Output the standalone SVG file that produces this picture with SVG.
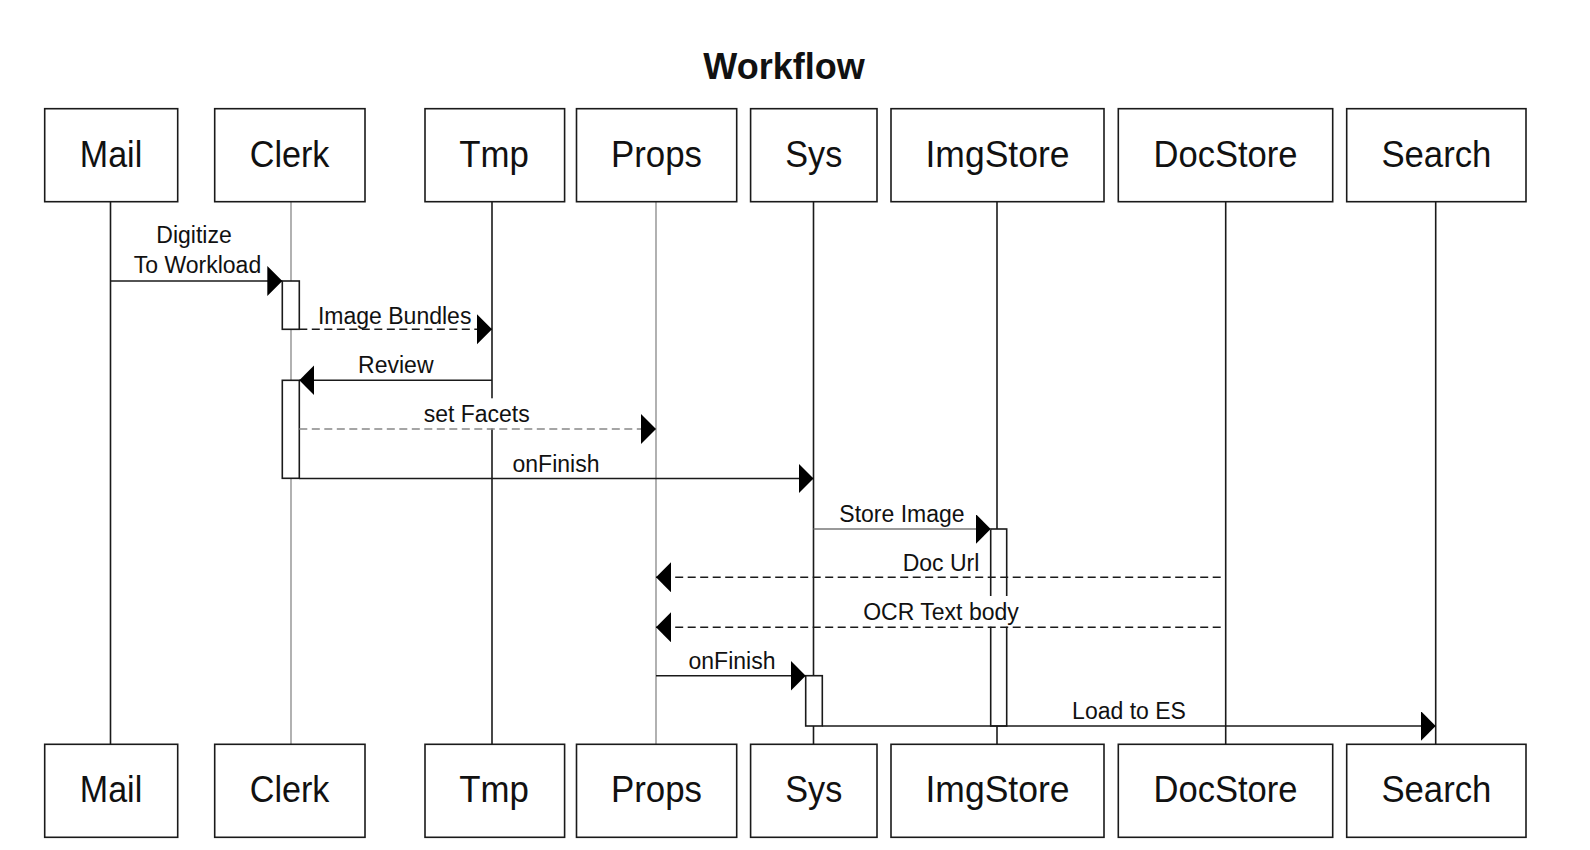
<svg xmlns="http://www.w3.org/2000/svg" width="1590" height="850" viewBox="0 0 1590 850">
<style>
  .box { fill: #fff; stroke: #1a1a1a; stroke-width: 1.6; }
  .lbl { font-family: "Liberation Sans", Arial, sans-serif; font-size: 37px; fill: #111; text-anchor: middle; }
  .title { font-family: "Liberation Sans", Arial, sans-serif; font-size: 36px; font-weight: bold; fill: #111; text-anchor: middle; }
  .msg { font-family: "Liberation Sans", Arial, sans-serif; font-size: 23px; fill: #111; text-anchor: middle; }
  .life { stroke: #1a1a1a; stroke-width: 1.6; fill: none; }
  .life-g { stroke: #888; stroke-width: 1.3; fill: none; }
  .act { fill: #fff; stroke: #1a1a1a; stroke-width: 1.6; }
  .sync { stroke: #1a1a1a; stroke-width: 1.6; fill: none; marker-end: url(#ah); }
  .sync-g { stroke: #777; stroke-width: 1.3; fill: none; marker-end: url(#ah); }
  .dash { stroke: #1a1a1a; stroke-width: 1.6; fill: none; stroke-dasharray: 8 4.5; marker-end: url(#ah); }
  .dash-g { stroke: #888; stroke-width: 1.3; fill: none; stroke-dasharray: 8 4.5; marker-end: url(#ah); }
  .bg { fill: #fff; stroke: none; }
</style>
<defs>
  <marker id="ah" markerUnits="userSpaceOnUse" markerWidth="16" markerHeight="31" refX="15" refY="15" orient="auto" viewBox="0 0 16 31">
    <path d="M0,0 L15,15 L0,30 Z" fill="#000"/>
  </marker>
</defs>
<rect width="1590" height="850" fill="#fff"/>
<text class="title" x="784" y="78.5">Workflow</text>

<g id="lifelines">
  <line class="life" x1="110.5" y1="201.7" x2="110.5" y2="744.3"/>
  <line class="life-g" x1="291" y1="201.7" x2="291" y2="744.3"/>
  <line class="life" x1="492" y1="201.7" x2="492" y2="744.3"/>
  <line class="life-g" x1="656" y1="201.7" x2="656" y2="744.3"/>
  <line class="life" x1="813.5" y1="201.7" x2="813.5" y2="744.3"/>
  <line class="life" x1="997" y1="201.7" x2="997" y2="744.3"/>
  <line class="life" x1="1225.7" y1="201.7" x2="1225.7" y2="744.3"/>
  <line class="life" x1="1435.7" y1="201.7" x2="1435.7" y2="744.3"/>
</g>

<g id="node-mail">
  <rect class="box" x="44.7" y="108.7" width="133" height="93"/>
  <text class="lbl" x="111" y="166.7" textLength="62.4" lengthAdjust="spacingAndGlyphs">Mail</text>
  <rect class="box" x="44.7" y="744.3" width="133" height="93"/>
  <text class="lbl" x="111" y="802.3" textLength="62.4" lengthAdjust="spacingAndGlyphs">Mail</text>
</g>
<g id="node-clerk">
  <rect class="box" x="214.7" y="108.7" width="150.3" height="93"/>
  <text class="lbl" x="289.6" y="166.7" textLength="79.7" lengthAdjust="spacingAndGlyphs">Clerk</text>
  <rect class="box" x="214.7" y="744.3" width="150.3" height="93"/>
  <text class="lbl" x="289.6" y="802.3" textLength="79.7" lengthAdjust="spacingAndGlyphs">Clerk</text>
</g>
<g id="node-tmp">
  <rect class="box" x="425" y="108.7" width="139.6" height="93"/>
  <text class="lbl" x="494" y="166.7" textLength="69.6" lengthAdjust="spacingAndGlyphs">Tmp</text>
  <rect class="box" x="425" y="744.3" width="139.6" height="93"/>
  <text class="lbl" x="494" y="802.3" textLength="69.6" lengthAdjust="spacingAndGlyphs">Tmp</text>
</g>
<g id="node-props">
  <rect class="box" x="576.5" y="108.7" width="160.2" height="93"/>
  <text class="lbl" x="656.5" y="166.7" textLength="91" lengthAdjust="spacingAndGlyphs">Props</text>
  <rect class="box" x="576.5" y="744.3" width="160.2" height="93"/>
  <text class="lbl" x="656.5" y="802.3" textLength="91" lengthAdjust="spacingAndGlyphs">Props</text>
</g>
<g id="node-sys">
  <rect class="box" x="750.6" y="108.7" width="126.4" height="93"/>
  <text class="lbl" x="813.8" y="166.7" textLength="57" lengthAdjust="spacingAndGlyphs">Sys</text>
  <rect class="box" x="750.6" y="744.3" width="126.4" height="93"/>
  <text class="lbl" x="813.8" y="802.3" textLength="57" lengthAdjust="spacingAndGlyphs">Sys</text>
</g>
<g id="node-imgstore">
  <rect class="box" x="891" y="108.7" width="213" height="93"/>
  <text class="lbl" x="997.5" y="166.7" textLength="144" lengthAdjust="spacingAndGlyphs">ImgStore</text>
  <rect class="box" x="891" y="744.3" width="213" height="93"/>
  <text class="lbl" x="997.5" y="802.3" textLength="144" lengthAdjust="spacingAndGlyphs">ImgStore</text>
</g>
<g id="node-docstore">
  <rect class="box" x="1118.3" y="108.7" width="214.4" height="93"/>
  <text class="lbl" x="1225.5" y="166.7" textLength="144" lengthAdjust="spacingAndGlyphs">DocStore</text>
  <rect class="box" x="1118.3" y="744.3" width="214.4" height="93"/>
  <text class="lbl" x="1225.5" y="802.3" textLength="144" lengthAdjust="spacingAndGlyphs">DocStore</text>
</g>
<g id="node-search">
  <rect class="box" x="1346.7" y="108.7" width="179.3" height="93"/>
  <text class="lbl" x="1436.4" y="166.7" textLength="110" lengthAdjust="spacingAndGlyphs">Search</text>
  <rect class="box" x="1346.7" y="744.3" width="179.3" height="93"/>
  <text class="lbl" x="1436.4" y="802.3" textLength="110" lengthAdjust="spacingAndGlyphs">Search</text>
</g>

<g id="activations">
  <rect class="act" x="282.3" y="281" width="17" height="48.3"/>
  <rect class="act" x="282.3" y="380.3" width="17" height="98"/>
  <rect class="act" x="990.7" y="529" width="16" height="197"/>
  <rect class="act" x="805.7" y="675.7" width="16.6" height="50.3"/>
</g>

<g id="label-backgrounds">
  <rect class="bg" x="420.7" y="398.3" width="112" height="30.2"/>
  <rect class="bg" x="858.7" y="596" width="165" height="30.7"/>
</g>

<g id="connectors">
  <path class="sync" d="M110.5,281 H282.3"/>
  <path class="dash" d="M299.3,329.3 H492"/>
  <path class="sync" d="M492,380.3 H299.3"/>
  <path class="dash-g" d="M299.3,429 H656"/>
  <path class="sync" d="M299.3,478.5 H813.5"/>
  <path class="sync-g" d="M813.5,529 H990.7"/>
  <path class="dash" d="M1220.7,577.3 H656"/>
  <path class="dash" d="M1220.7,627.3 H656"/>
  <path class="sync" d="M656,675.7 H805.7"/>
  <path class="sync" d="M822.3,726 H1435.7"/>
</g>

<g id="connector-labels">
  <text class="msg" x="194" y="243.3">Digitize</text>
  <text class="msg" x="197.5" y="273.3">To Workload</text>
  <text class="msg" x="394.7" y="324">Image Bundles</text>
  <text class="msg" x="395.8" y="372.7">Review</text>
  <text class="msg" x="476.7" y="422.3">set Facets</text>
  <text class="msg" x="556" y="471.5">onFinish</text>
  <text class="msg" x="902" y="521.7">Store Image</text>
  <text class="msg" x="941" y="571">Doc Url</text>
  <text class="msg" x="941" y="620">OCR Text body</text>
  <text class="msg" x="732" y="669.3">onFinish</text>
  <text class="msg" x="1129" y="719">Load to ES</text>
</g>
</svg>
